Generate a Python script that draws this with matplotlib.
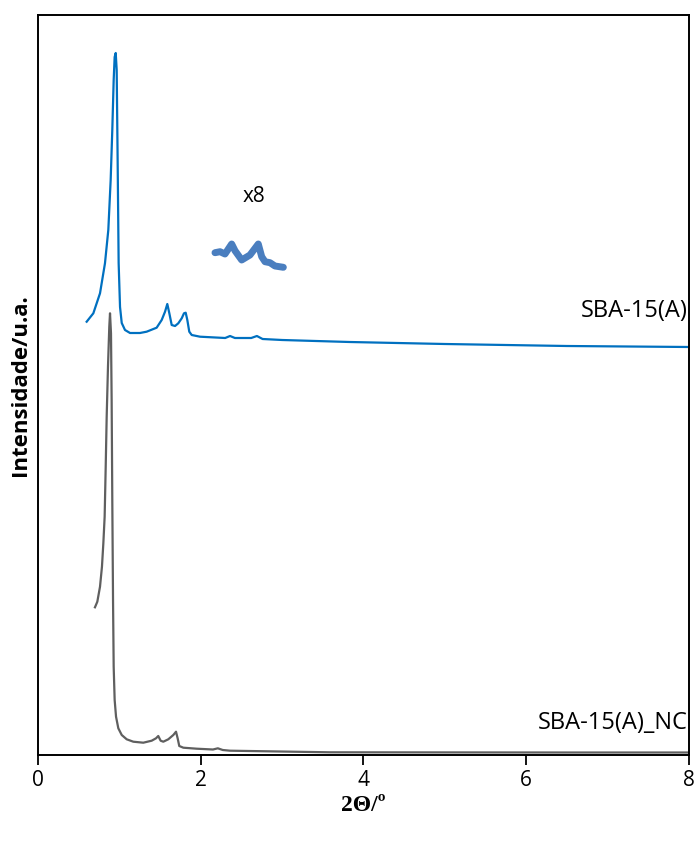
import matplotlib
matplotlib.use("Agg")
import matplotlib.pyplot as plt

# SBA-15(A) (blue)
x_a = [0.598, 0.680, 0.762, 0.823, 0.864, 0.893, 0.913, 0.930, 0.942, 0.955, 0.967,
       0.979, 0.991, 1.008, 1.029, 1.069, 1.131, 1.253, 1.335, 1.458, 1.520, 1.561,
       1.589, 1.614, 1.643, 1.684, 1.724, 1.766, 1.794, 1.815, 1.835, 1.859, 1.889,
       1.991, 2.30, 2.36, 2.42, 2.62, 2.69, 2.76, 3.0, 3.83, 5.0, 6.5, 8.0]
y_a = [433.3, 441.7, 461.7, 491.7, 525, 575, 625, 675, 698, 702, 685,
       592, 492, 448, 432, 425, 422, 422, 423.3, 427.3, 435, 443.3,
       451, 441.7, 430, 429, 431.7, 436.7, 441.7, 442.3, 435, 423.3, 420,
       418.3, 417, 419, 417, 417, 419, 416, 415, 413, 411, 409, 408]

# SBA-15(A)_NC (gray)
x_nc = [0.700, 0.729, 0.762, 0.786, 0.803, 0.819, 0.832, 0.844, 0.860, 0.876, 0.885,
        0.897, 0.905, 0.913, 0.922, 0.930, 0.942, 0.959, 0.987, 1.029, 1.090, 1.171,
        1.294, 1.397, 1.450, 1.478, 1.507, 1.540, 1.601, 1.663, 1.696, 1.716, 1.736,
        1.786, 1.950, 2.15, 2.21, 2.27, 2.36, 3.59, 5.0, 6.5, 8.0]
y_nc = [147.7, 153.3, 168.3, 188.3, 211.7, 238.3, 288.3, 338.3, 388.3, 428.3, 441.7,
        421.7, 355, 255, 155, 88.3, 55, 38.3, 26.7, 20, 15.7, 13.3,
        12.3, 14.3, 16.7, 19, 14.3, 13.3, 15.7, 20, 23.3, 16.7, 9,
        7.3, 6.3, 5.5, 6.7, 5.0, 4.3, 2.7, 2.6, 2.5, 2.5]

# x8 magnified segment
x_zoom = [2.175, 2.237, 2.298, 2.380, 2.421, 2.503, 2.605, 2.707, 2.749, 2.790, 2.851, 2.912, 3.015]
y_zoom = [502.3, 503.3, 501, 511, 504.3, 495, 500, 511, 498.3, 493.3, 492.3, 489, 487.7]

xticks = [0, 2, 4, 6, 8]

fig = plt.figure(figsize=(6.99, 8.43), dpi=100)
ax = fig.add_axes([38/699, 1-755/843, (689-38)/699, (755-15)/843])

ax.plot(x_a, y_a, color="#0070C0", lw=1.6)
ax.plot(x_nc, y_nc, color="#5f5f5f", lw=1.6)
ax.plot(x_zoom, y_zoom, color="#4a7ebf", lw=5, solid_capstyle="round", solid_joinstyle="round")

ax.set_xlim(0, 8)
ax.set_ylim(0, 740)
ax.set_xticks(xticks)
ax.set_xticklabels([str(t) for t in xticks], family="Open Sans", fontsize=15)
ax.set_yticks([])
ax.tick_params(axis="x", direction="out", length=7, width=1.3, pad=4)
for s in ax.spines.values():
    s.set_linewidth(1.4)
    s.set_color("black")

ax.text(2.65, 559, "x8", ha="center", va="center", family="Open Sans", fontsize=15)
ax.text(7.98, 444, "SBA-15(A)", ha="right", va="center", family="Open Sans", fontsize=17)
ax.text(7.98, 32, "SBA-15(A)_NC", ha="right", va="center", family="Open Sans", fontsize=17)

ax.set_ylabel("Intensidade/u.a.", family="Open Sans", fontsize=16, fontweight="bold", labelpad=5)
ax.set_xlabel("2Θ/º", family="Liberation Serif", fontsize=17, fontweight="bold", labelpad=3)

fig.savefig("out.png", dpi=100)
